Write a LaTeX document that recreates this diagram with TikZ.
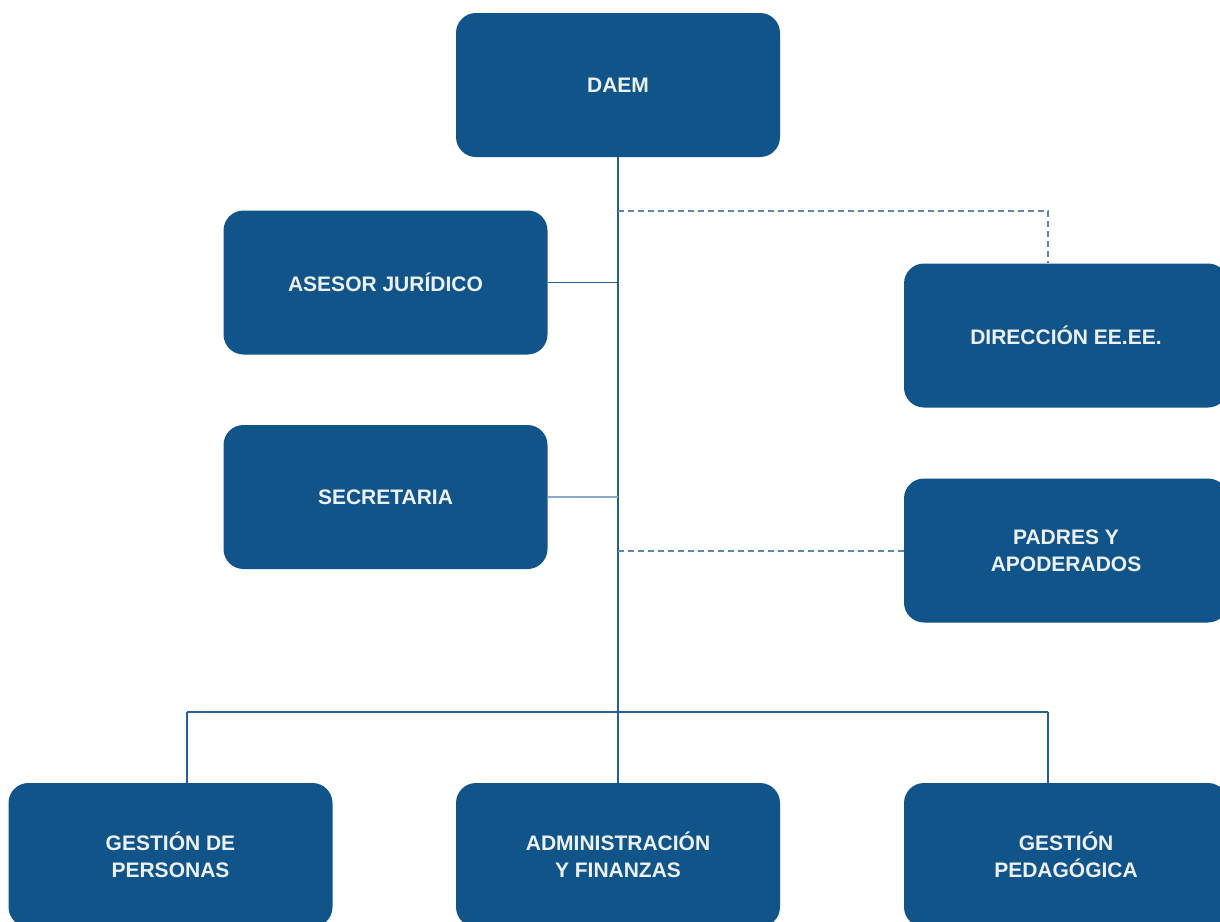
\documentclass[tikz,border=0pt]{standalone}
\usepackage{fontspec}
\setmainfont{Liberation Sans}
\definecolor{boxblue}{RGB}{17,84,137}
\definecolor{boxtext}{RGB}{236,241,246}
\definecolor{linedark}{RGB}{38,96,156}
\definecolor{linelight}{RGB}{140,170,199}
\definecolor{dashblue}{RGB}{92,135,178}
\tikzset{
  orgbox/.style={fill=boxblue, text=boxtext, rounded corners=20pt, minimum width=324pt, minimum height=144pt, inner sep=0pt, align=center, font=\fontsize{21}{27}\selectfont\bfseries},
  solidlink/.style={draw=linedark, line width=1.8pt},
  lightlink/.style={draw=linelight, line width=2.8pt},
  dashlink/.style={draw=dashblue, line width=2pt, dash pattern=on 6pt off 4pt},
}
\begin{document}
\begin{tikzpicture}[x=1pt,y=-1pt]
\useasboundingbox (0,0) rectangle (1220,921);
\clip (0,0) rectangle (1220,921);
\fill[white] (0,0) rectangle (1220,921);
% nodes
\node[orgbox] (daem) at (618,85) {DAEM};
\node[orgbox] (asesor) at (385.5,282.5) {ASESOR JURÍDICO};
\node[orgbox] (sec) at (385.5,497) {SECRETARIA};
\node[orgbox] (dir) at (1066,335.5) {DIRECCIÓN EE.EE.};
\node[orgbox] (pad) at (1066,550.5) {PADRES Y\\APODERADOS};
\node[orgbox] (gper) at (170.5,855) {GESTIÓN DE\\PERSONAS};
\node[orgbox] (adm) at (618,855) {ADMINISTRACIÓN\\Y FINANZAS};
\node[orgbox] (gped) at (1066,855) {GESTIÓN\\PEDAGÓGICA};
% coordinates
\coordinate (jdir) at (618,211);
\coordinate (dirtop) at (1048,263);
\coordinate (busL) at (187,712);
\coordinate (busR) at (1048,712);
\coordinate (gperin) at (187,783);
\coordinate (gpedin) at (1048,783);
% connectors
\draw[solidlink] (daem.south) -- (adm.north);
\draw[solidlink] (asesor.east) -- (asesor.east -| daem.south);
\draw[lightlink] (sec.east) -- (sec.east -| daem.south);
\draw[dashlink] (jdir) -| (dirtop);
\draw[dashlink] (pad.west -| daem.south) -- (pad.west);
\draw[solidlink] (busL) -- (busR);
\draw[solidlink] (busL) -- (gperin);
\draw[solidlink] (busR) -- (gpedin);
\end{tikzpicture}
\end{document}
